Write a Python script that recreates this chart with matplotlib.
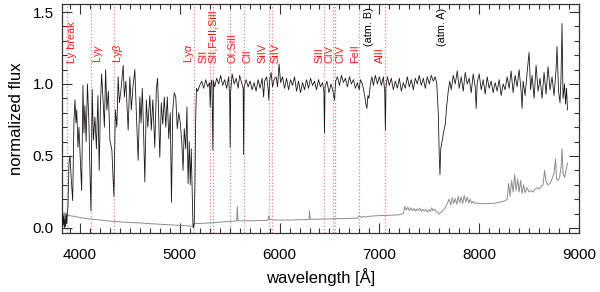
import numpy as np
import matplotlib
matplotlib.use('Agg')
import matplotlib.pyplot as plt
from matplotlib.ticker import MultipleLocator

plt.rcParams['font.family'] = ['Liberation Sans', 'DejaVu Sans']
plt.rcParams['mathtext.fontset'] = 'custom'
plt.rcParams['mathtext.it'] = 'Liberation Sans:italic'
plt.rcParams['mathtext.rm'] = 'Liberation Sans'

# normalized spectrum
wave = [3820, 3826, 3832, 3838, 3844, 3850, 3856, 3862, 3868, 3874, 3880,
        3890, 3900, 3912, 3927, 3940, 3950, 3960, 3968, 3980, 3990, 4005, 4017,
        4030, 4040, 4050, 4062, 4075, 4090, 4100, 4110, 4123, 4135, 4150, 4165,
        4180, 4193, 4205, 4217, 4230, 4245, 4257, 4270, 4285, 4300, 4320, 4340,
        4355, 4370, 4383, 4395, 4410, 4433, 4445, 4460, 4483, 4500, 4515, 4530,
        4550, 4565, 4583, 4600, 4612, 4625, 4640, 4650, 4665, 4680, 4700, 4715,
        4730, 4750, 4765, 4778, 4790, 4800, 4815, 4830, 4845, 4860, 4875, 4890,
        4905, 4917, 4930, 4945, 4960, 4975, 4990, 5005, 5020, 5033, 5045, 5060,
        5072, 5083, 5095, 5105, 5115, 5125, 5132, 5138, 5145, 5152, 5160, 5168,
        5180, 5200, 5220, 5240, 5260, 5280, 5298, 5305, 5312, 5322, 5332, 5338,
        5350, 5370, 5390, 5410, 5430, 5450, 5470, 5490, 5500, 5505, 5510, 5525,
        5545, 5565, 5585, 5600, 5620, 5635, 5640, 5645, 5665, 5685, 5705, 5725,
        5745, 5765, 5785, 5805, 5825, 5840, 5850, 5870, 5885, 5892, 5900, 5915,
        5930, 5945, 5965, 5980, 5995, 6010, 6030, 6050, 6070, 6090, 6110, 6130,
        6150, 6170, 6190, 6210, 6230, 6250, 6270, 6290, 6310, 6330, 6350, 6370,
        6390, 6410, 6430, 6444, 6450, 6456, 6475, 6495, 6515, 6535, 6550, 6562,
        6580, 6600, 6620, 6640, 6660, 6680, 6700, 6720, 6740, 6760, 6780, 6797,
        6810, 6830, 6850, 6865, 6875, 6885, 6895, 6910, 6925, 6940, 6960, 6980,
        7000, 7020, 7040, 7054, 7060, 7066, 7080, 7100, 7120, 7140, 7160, 7180,
        7200, 7220, 7240, 7260, 7280, 7300, 7320, 7340, 7360, 7380, 7400, 7420,
        7440, 7460, 7480, 7500, 7520, 7540, 7560, 7575, 7590, 7600, 7607, 7615,
        7630, 7645, 7660, 7675, 7690, 7705, 7720, 7740, 7760, 7780, 7800, 7820,
        7840, 7860, 7880, 7900, 7920, 7940, 7960, 7970, 7980, 8000, 8020, 8040,
        8060, 8080, 8100, 8120, 8140, 8160, 8180, 8200, 8220, 8240, 8260, 8280,
        8300, 8320, 8340, 8360, 8380, 8400, 8420, 8430, 8440, 8460, 8480, 8500,
        8515, 8530, 8550, 8570, 8590, 8610, 8630, 8650, 8670, 8690, 8710, 8730,
        8750, 8770, 8780, 8795, 8810, 8820, 8830, 8840, 8855, 8865, 8875, 8885]
flux = [0.05, 0.10, 0.02, 0.08, 0.00, 0.06, 0.01, 0.09, 0.03, 0.12, 0.15,
        0.45, 0.50, 0.35, 0.19, 0.75, 0.89, 0.73, 0.82, 0.56, 0.70, 0.45, 0.26,
        0.99, 0.66, 0.85, 0.60, 1.00, 0.73, 0.40, 0.12, 0.96, 0.61, 0.77, 0.55,
        0.92, 0.40, 0.85, 1.07, 0.91, 0.70, 1.10, 0.82, 0.95, 0.61, 0.54, 0.22,
        0.82, 0.70, 1.05, 0.87, 0.95, 1.13, 0.91, 1.02, 0.68, 1.05, 0.82, 0.97,
        1.10, 0.80, 0.47, 0.91, 0.73, 0.97, 0.60, 0.32, 0.89, 0.70, 0.92, 0.68,
        0.89, 0.56, 0.96, 1.04, 0.75, 0.49, 0.87, 0.72, 0.91, 0.70, 0.91, 0.62,
        0.80, 0.18, 0.82, 0.94, 0.91, 0.69, 0.80, 0.73, 0.60, 0.40, 0.69, 0.55,
        0.84, 0.31, 0.60, 0.30, 0.55, 0.25, 0.02, 0.00, 0.04, 0.30, 0.78, 0.97,
        0.95, 0.99, 1.02, 0.97, 1.03, 0.98, 1.01, 0.84, 1.00, 1.03, 0.54, 1.02,
        0.98, 1.04, 1.00, 1.06, 0.99, 1.03, 0.97, 1.05, 0.90, 0.56, 0.95, 1.07,
        1.00, 1.04, 0.97, 1.06, 1.01, 0.97, 0.51, 0.98, 1.03, 0.98, 1.02, 0.96,
        1.01, 0.95, 1.03, 0.97, 1.04, 0.91, 1.02, 1.05, 0.97, 0.89, 1.02, 1.08,
        0.98, 1.03, 1.05, 0.98, 1.14, 1.01, 1.05, 0.97, 1.04, 0.96, 1.03, 0.99,
        1.05, 0.95, 1.02, 0.94, 1.01, 0.96, 1.03, 0.97, 1.04, 0.99, 1.02, 0.96,
        1.03, 0.98, 1.01, 0.95, 0.66, 0.98, 1.02, 0.94, 1.00, 0.95, 0.89, 1.02,
        1.05, 0.99, 1.06, 1.01, 1.04, 0.98, 1.05, 1.00, 1.03, 0.97, 1.01, 0.96,
        1.03, 1.00, 0.93, 0.86, 0.83, 0.92, 0.90, 1.00, 1.05, 0.99, 1.06, 1.00,
        1.05, 0.99, 1.05, 0.94, 0.68, 0.98, 1.05, 0.99, 1.04, 0.96, 1.02, 0.97,
        1.04, 0.95, 1.01, 0.97, 1.05, 0.98, 1.03, 0.96, 1.04, 1.00, 1.06, 0.99,
        1.04, 0.97, 1.05, 1.00, 1.06, 1.02, 1.05, 1.00, 0.80, 0.50, 0.37, 0.55,
        0.61, 0.67, 0.72, 0.85, 0.95, 1.02, 0.96, 1.06, 1.00, 1.09, 0.97, 1.05,
        0.95, 1.08, 1.00, 1.04, 0.94, 1.07, 0.98, 0.83, 1.01, 1.07, 0.96, 1.03,
        0.93, 1.05, 0.97, 1.02, 0.94, 1.01, 0.95, 1.03, 0.92, 1.00, 0.96, 1.05,
        0.97, 1.09, 0.94, 1.06, 0.98, 1.10, 0.95, 0.83, 1.02, 0.92, 1.08, 1.22,
        0.96, 1.06, 0.90, 1.13, 0.95, 1.04, 0.90, 1.08, 0.93, 1.12, 0.96, 1.05,
        0.92, 1.10, 1.26, 0.95, 0.87, 1.05, 1.42, 0.90, 1.00, 0.86, 0.97, 0.82]

# error spectrum
err_wave = [3820, 3826, 3832, 3838, 3844, 3850, 3856, 3862, 3870, 3880, 3900,
            3950, 4000, 4100, 4200, 4300, 4400, 4500, 4600, 4700, 4800, 4900,
            5000, 5100, 5130, 5150, 5300, 5400, 5500, 5570, 5577, 5584, 5700,
            5850, 5885, 5892, 5900, 5950, 6100, 6250, 6295, 6300, 6306, 6450,
            6600, 6780, 6800, 6820, 6840, 6860, 6880, 7000, 7100, 7200, 7240,
            7255, 7270, 7285, 7300, 7315, 7330, 7345, 7360, 7375, 7390, 7405,
            7420, 7435, 7450, 7465, 7480, 7495, 7510, 7525, 7540, 7555, 7575,
            7600, 7630, 7660, 7680, 7700, 7715, 7730, 7745, 7760, 7775, 7790,
            7805, 7820, 7835, 7850, 7865, 7880, 7895, 7910, 7925, 7940, 7960,
            7980, 8000, 8050, 8100, 8150, 8200, 8240, 8260, 8280, 8295, 8310,
            8325, 8340, 8355, 8370, 8385, 8400, 8415, 8430, 8445, 8460, 8480,
            8500, 8520, 8540, 8560, 8580, 8600, 8620, 8640, 8655, 8670, 8690,
            8710, 8730, 8750, 8765, 8775, 8790, 8805, 8820, 8830, 8840, 8855,
            8870, 8885]
err_flux = [0.08, 0.12, 0.04, 0.10, 0.06, 0.11, 0.05, 0.10, 0.07, 0.09, 0.085,
            0.08, 0.072, 0.062, 0.055, 0.048, 0.042, 0.038, 0.035, 0.030, 0.026,
            0.022, 0.018, 0.014, 0.010, 0.030, 0.035, 0.040, 0.045, 0.050, 0.150,
            0.050, 0.050, 0.052, 0.055, 0.085, 0.060, 0.055, 0.055, 0.058, 0.060,
            0.120, 0.060, 0.062, 0.065, 0.068, 0.085, 0.072, 0.082, 0.075, 0.080,
            0.086, 0.088, 0.092, 0.100, 0.150, 0.125, 0.145, 0.120, 0.140, 0.122,
            0.135, 0.118, 0.132, 0.120, 0.138, 0.115, 0.130, 0.118, 0.128, 0.112,
            0.126, 0.115, 0.140, 0.118, 0.130, 0.112, 0.100, 0.115, 0.140, 0.170,
            0.200, 0.160, 0.210, 0.170, 0.205, 0.165, 0.220, 0.175, 0.215, 0.170,
            0.225, 0.180, 0.215, 0.172, 0.200, 0.170, 0.185, 0.168, 0.175, 0.170,
            0.168, 0.170, 0.172, 0.178, 0.185, 0.190, 0.200, 0.310, 0.220, 0.330,
            0.250, 0.370, 0.260, 0.340, 0.250, 0.330, 0.240, 0.300, 0.245, 0.280,
            0.250, 0.260, 0.250, 0.270, 0.280, 0.270, 0.290, 0.300, 0.400, 0.320,
            0.300, 0.310, 0.340, 0.380, 0.480, 0.340, 0.330, 0.350, 0.420, 0.550,
            0.380, 0.350, 0.400, 0.450]

# absorption line markers: observed wavelength and label position
line_waves = [3875, 4110, 4337, 5140, 5305, 5332, 5503, 5640, 5892, 5928,
              6450, 6540, 6552, 6797, 7060]
label_text = ['Ly break', r'Ly$\gamma$', r'Ly$\beta$', r'Ly$\alpha$', 'SII',
              'SII,FeII,SiII', 'OI,SiII', 'CII', 'SiIV', 'SiIV', 'SiII', 'CIV',
              'CIV', 'FeII', 'AlII']
label_waves = [3925, 4185, 4385, 5095, 5240, 5330, 5525, 5675, 5825, 5955,
               6400, 6505, 6610, 6755, 7005]
atm_text = ['(atm. B)', '(atm. A)']
atm_waves = [6895, 7625]


def main():
    fig = plt.figure(figsize=(6.0, 2.92), dpi=100)
    ax = fig.add_axes([0.1033, 0.202, 0.8617, 0.784])

    for lw in line_waves:
        ax.axvline(lw, color='#f08080', ls=':', lw=0.9, zorder=1)

    ax.plot(err_wave, err_flux, color='#8c8c8c', lw=0.7, zorder=2)
    ax.plot(wave, flux, color='#1a1a1a', lw=0.6, zorder=3)

    for t, x in zip(label_text, label_waves):
        ax.text(x, 1.145, t, rotation=90, ha='center', va='bottom',
                color='#e8201a', fontsize=7.8, zorder=4)
    for t, x in zip(atm_text, atm_waves):
        ax.text(x, 1.265, t, rotation=90, ha='center', va='bottom',
                color='black', fontsize=7.8, zorder=4)

    ax.set_xlim(3820, 9000)
    ax.set_ylim(-0.035, 1.555)
    ax.xaxis.set_major_locator(MultipleLocator(1000))
    ax.xaxis.set_minor_locator(MultipleLocator(100))
    ax.yaxis.set_major_locator(MultipleLocator(0.5))
    ax.yaxis.set_minor_locator(MultipleLocator(0.1))
    ax.tick_params(which='both', direction='in', top=True, right=True,
                   labelsize=11, width=0.8, color='#333333')
    ax.tick_params(which='major', length=7)
    ax.tick_params(which='minor', length=3.5)
    ax.tick_params(axis='x', which='both', pad=11)
    ax.tick_params(axis='y', which='both', pad=6)
    for s in ax.spines.values():
        s.set_linewidth(0.9)
        s.set_color('#333333')

    ax.set_xlabel('wavelength [Å]', fontsize=12, labelpad=4)
    ax.set_ylabel('normalized flux', fontsize=12, labelpad=6)

    fig.savefig('out.png', dpi=100)


if __name__ == '__main__':
    main()
